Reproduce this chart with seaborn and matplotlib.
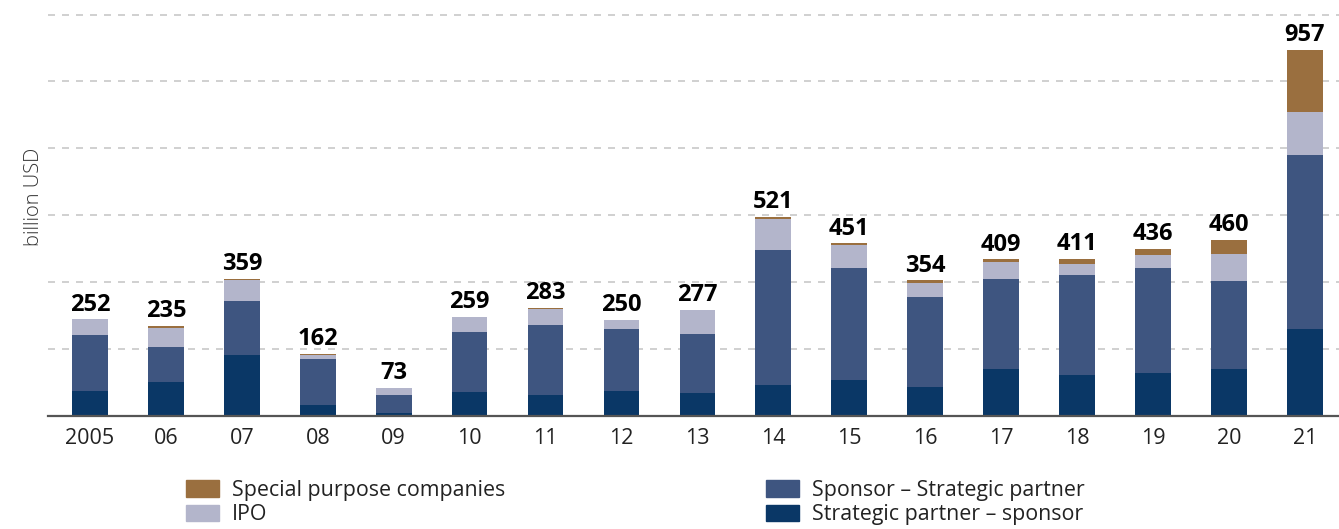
import matplotlib
matplotlib.use("Agg")
import numpy as np
import pandas as pd
import matplotlib.pyplot as plt
import seaborn as sns

# === data (billion USD) ===
years = ["2005", "06", "07", "08", "09", "10", "11", "12", "13",
         "14", "15", "16", "17", "18", "19", "20", "21"]
strategic_sponsor = [65, 88, 159, 28, 7, 62, 54, 65, 59, 80, 93, 75, 122, 107, 112, 122, 227]
sponsor_strategic = [146, 92, 141, 120, 47, 157, 183, 162, 155, 354, 294, 236, 236, 262, 275, 231, 456]
ipo = [41, 50, 55, 11, 19, 40, 43, 23, 63, 81, 60, 36, 44, 29, 34, 70, 112]
spc = [0, 5, 4, 3, 0, 0, 3, 0, 0, 6, 4, 7, 7, 13, 15, 37, 162]
totals = [252, 235, 359, 162, 73, 259, 283, 250, 277, 521, 451, 354, 409, 411, 436, 460, 957]

series_names = ["Special purpose companies", "IPO",
                "Sponsor – Strategic partner", "Strategic partner – sponsor"]
colors = ["#9A6F3F", "#B3B5CB", "#3E5580", "#0A3766"]

df = pd.DataFrame({
    "year": years,
    "Strategic partner – sponsor": strategic_sponsor,
    "Sponsor – Strategic partner": sponsor_strategic,
    "IPO": ipo,
    "Special purpose companies": spc,
})

# cumulative heights, bottom segment first
stack_order = ["Strategic partner – sponsor", "Sponsor – Strategic partner",
               "IPO", "Special purpose companies"]
cum = df[stack_order].cumsum(axis=1)

sns.set_style("white")
plt.rcParams["font.family"] = ["Open Sans", "DejaVu Sans"]

fig = plt.figure(figsize=(13.39, 5.29), dpi=100)
ax = fig.add_axes([48 / 1339, 1 - 415.7 / 529, 1 - 48 / 1339, 415.7 / 529])

# === stacked bars: draw tallest cumulative first, overlay the rest ===
color_of = dict(zip(series_names, colors))
for name in reversed(stack_order):
    sns.barplot(x=df["year"], y=cum[name], order=years, color=color_of[name],
                saturation=1, width=0.47, linewidth=0, ax=ax, zorder=3)

# total labels
for i, t in enumerate(totals):
    ax.annotate(str(t), (i, t), xytext=(0, 2), textcoords="offset points",
                ha="center", va="bottom", fontsize=17, fontweight="bold",
                color="black")

# === axes styling ===
ax.set_xlim(-0.553, 16.45)
ax.set_ylim(0, 415.7 * 2.618)
ax.set_yticks(np.arange(175, 1051, 175))
ax.set_yticklabels([])
ax.yaxis.grid(True, color="#C8C8C8", linewidth=1.2, linestyle=(0, (4.2, 4.2)), zorder=0)
ax.xaxis.grid(False)
for s in ["top", "right", "left"]:
    ax.spines[s].set_visible(False)
ax.spines["bottom"].set_color("#555555")
ax.spines["bottom"].set_linewidth(1.6)
ax.spines["bottom"].set_zorder(4)
ax.tick_params(axis="both", length=0)
ax.tick_params(axis="x", labelsize=15.5, labelcolor="#222222", pad=9)
ax.set_xlabel("")
ax.set_ylabel("billion USD", fontsize=14.5, color="#333333", fontweight="light")
ax.yaxis.set_label_coords(-0.003, 0.527)

# === legend ===
handles = [plt.Rectangle((0, 0), 1, 1, color=c) for c in colors]
fig.legend(handles, series_names, ncol=2, loc="upper left",
           bbox_to_anchor=(186 / 1339, 1 - 480 / 529), frameon=False,
           fontsize=15.4, labelcolor="#222222", handlelength=1.55, handleheight=0.8,
           handletextpad=0.6, columnspacing=12.2, labelspacing=0.15,
           borderpad=0, borderaxespad=0)

fig.savefig("out.png", dpi=100)
